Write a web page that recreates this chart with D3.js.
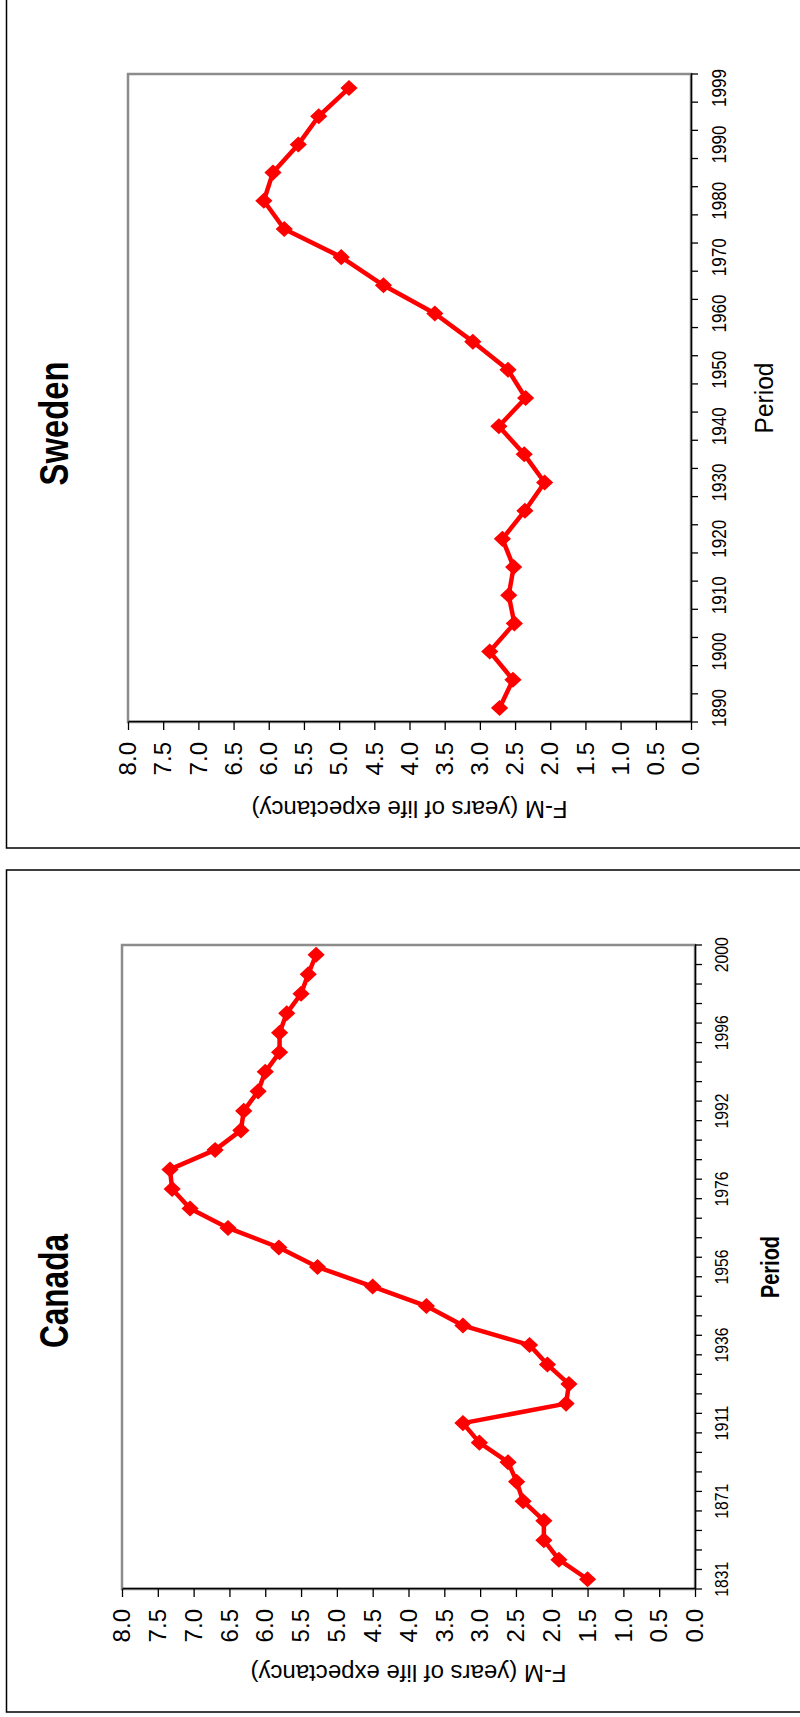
<!DOCTYPE html>
<html lang="en">
<head>
<meta charset="utf-8">
<title>F-M life expectancy gap</title>
<style>
  body { margin: 0; background: #fff; }
  svg { display: block; font-family: "Liberation Sans", Arial, sans-serif; }
</style>
</head>
<body>
<div id="container"></div>
<script src="https://cdn.jsdelivr.net/npm/d3@7"></script>
<script>
// Canada: periods and female-minus-male gap
const canadaPeriods = ["1831","1841","1851","1861","1871","1881","1891","1901","1911","1921","1926",
  "1931","1936","1941","1946","1951","1956","1961","1966","1971","1976","1981","1986","1991","1992",
  "1993","1994","1995","1996","1997","1998","1999","2000"];
const canadaGap = [1.50, 1.90, 2.11, 2.11, 2.40, 2.49, 2.61, 3.01, 3.24, 1.80, 1.76,
  2.06, 2.31, 3.24, 3.75, 4.50, 5.27, 5.81, 6.52, 7.05, 7.30, 7.33, 6.70, 6.34, 6.30,
  6.10, 6.00, 5.80, 5.80, 5.70, 5.50, 5.40, 5.29];

// Sweden
const swedenPeriods = ["1890","1895","1900","1905","1910","1915","1920","1925","1930","1935","1940",
  "1945","1950","1955","1960","1965","1970","1975","1980","1985","1990","1995","1999"];
const swedenGap = [2.72, 2.53, 2.86, 2.51, 2.59, 2.52, 2.68, 2.36, 2.08, 2.37, 2.73,
  2.35, 2.60, 3.10, 3.64, 4.37, 4.97, 5.78, 6.07, 5.94, 5.58, 5.29, 4.86];

const yTicks = [0, 0.5, 1, 1.5, 2, 2.5, 3, 3.5, 4, 4.5, 5, 5.5, 6, 6.5, 7, 7.5, 8];

const width = 800, height = 1717;
const svg = d3.select("#container").append("svg")
    .attr("width", width)
    .attr("height", height);

// each panel is a landscape chart turned a quarter turn counter-clockwise
function drawPanel(cfg) {
    // outer frame (page coordinates)
    svg.append("rect")
        .attr("x", 6.5).attr("y", cfg.top)
        .attr("width", 820).attr("height", cfg.bottom - cfg.top)
        .attr("fill", "none").attr("stroke", "#000").attr("stroke-width", 1.5);

    const g = svg.append("g")
        .attr("transform", `translate(0,${cfg.bottom}) rotate(-90)`);

    const x0 = cfg.bottom - cfg.plotBottom, x1 = cfg.bottom - cfg.plotTop;
    const x = d3.scaleBand().domain(cfg.periods).range([x0, x1]);
    const y = d3.scaleLinear().domain([0, 8]).range([cfg.plotRight, cfg.plotLeft]);
    const data = cfg.periods.map((p, i) => ({ period: p, value: cfg.values[i] }));

    // plot area border
    g.append("rect")
        .attr("x", x0).attr("y", cfg.plotLeft)
        .attr("width", x1 - x0).attr("height", cfg.plotRight - cfg.plotLeft)
        .attr("fill", "none").attr("stroke", "#8c8c8c").attr("stroke-width", 2.5);

    // value axis
    const yAxis = g.append("g")
        .attr("transform", `translate(${x0},0)`)
        .call(d3.axisLeft(y).tickValues(yTicks).tickFormat(d3.format(".1f"))
            .tickSize(8).tickSizeOuter(0).tickPadding(12));
    yAxis.select(".domain").attr("stroke-width", 1.5);
    yAxis.selectAll(".tick line").attr("stroke-width", 1.3);
    yAxis.selectAll("text").attr("font-size", 24).attr("font-family", "Liberation Sans, Arial, sans-serif");

    // category axis
    const xAxis = g.append("g")
        .attr("transform", `translate(0,${cfg.plotRight})`)
        .call(d3.axisBottom(x)
            .tickValues(cfg.periods.filter((d, i) => i % cfg.labelEvery === 0))
            .tickSize(0).tickSizeOuter(0).tickPadding(cfg.labelPad));
    xAxis.select(".domain").attr("stroke-width", 1.5);
    xAxis.selectAll("text")
        .attr("font-size", cfg.yearSize)
        .attr("font-family", "Liberation Sans, Arial, sans-serif")
        .attr("textLength", cfg.yearLen)
        .attr("lengthAdjust", "spacingAndGlyphs");
    const bounds = cfg.periods.map(d => x(d)).concat([x1]);
    xAxis.selectAll(".bound")
        .data(bounds)
        .enter().append("line")
        .attr("class", "bound")
        .attr("x1", d => d).attr("x2", d => d)
        .attr("y1", 0).attr("y2", 7)
        .attr("stroke", "#000").attr("stroke-width", 1.3);

    // series
    const bw = x.bandwidth();
    const line = d3.line()
        .x(d => x(d.period) + bw / 2)
        .y(d => y(d.value));
    g.append("path")
        .datum(data)
        .attr("d", line)
        .attr("fill", "none")
        .attr("stroke", "#ff0000")
        .attr("stroke-width", 4.5)
        .attr("stroke-linejoin", "round");
    g.selectAll(".marker")
        .data(data)
        .enter().append("path")
        .attr("class", "marker")
        .attr("d", "M0,-7.5L7,0L0,7.5L-7,0Z")
        .attr("transform", d => `translate(${x(d.period) + bw / 2},${y(d.value)})`)
        .attr("fill", "#ff0000")
        .attr("stroke", "#ff0000")
        .attr("stroke-width", 1.5);

    // titles
    g.append("text")
        .attr("x", (cfg.bottom - cfg.top) / 2)
        .attr("y", 68)
        .attr("text-anchor", "middle")
        .attr("font-size", 40)
        .attr("font-weight", "bold")
        .attr("font-family", cfg.titleFont)
        .attr("textLength", cfg.titleLen)
        .attr("lengthAdjust", "spacingAndGlyphs")
        .text(cfg.title);

    g.append("text")
        .attr("x", (x0 + x1) / 2)
        .attr("y", cfg.periodBase)
        .attr("text-anchor", "middle")
        .attr("font-size", 26)
        .attr("font-weight", cfg.periodWeight)
        .attr("textLength", cfg.periodLen)
        .attr("lengthAdjust", "spacingAndGlyphs")
        .text("Period");

    g.append("text")
        .attr("transform", `translate(47,${(cfg.plotLeft + cfg.plotRight) / 2}) rotate(-90)`)
        .attr("text-anchor", "middle")
        .attr("font-size", 24)
        .text("F-M (years of life expectancy)");
}

drawPanel({
    title: "Sweden", periods: swedenPeriods, values: swedenGap,
    top: -1, bottom: 848, plotTop: 74, plotBottom: 722, plotLeft: 128, plotRight: 691,
    labelEvery: 2, labelPad: 21, yearSize: 20, yearLen: 38,
    titleFont: "Liberation Sans, Arial, sans-serif", titleLen: 124,
    periodBase: 773, periodWeight: "normal", periodLen: 71
});

drawPanel({
    title: "Canada", periods: canadaPeriods, values: canadaGap,
    top: 870, bottom: 1712, plotTop: 945, plotBottom: 1589, plotLeft: 122, plotRight: 695,
    labelEvery: 4, labelPad: 20, yearSize: 19, yearLen: 35,
    titleFont: "Liberation Sans Narrow, Liberation Sans, Arial, sans-serif", titleLen: 114,
    periodBase: 779, periodWeight: "bold", periodLen: 62
});
</script>
</body>
</html>
